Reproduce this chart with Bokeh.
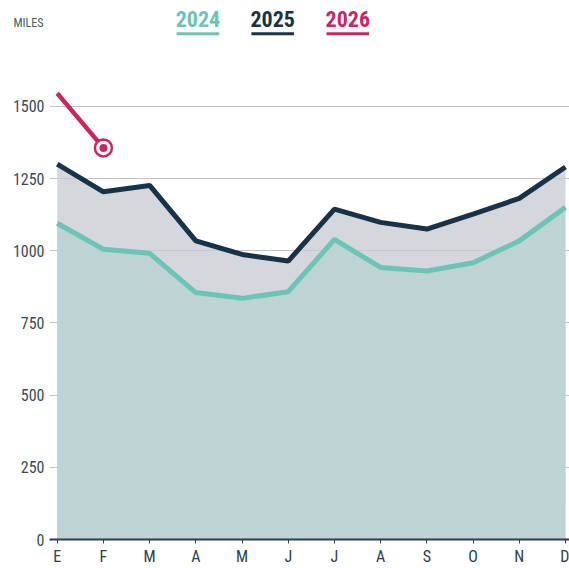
from bokeh.plotting import figure
from bokeh.models import FixedTicker, Range1d, LinearAxis
from bokeh.layouts import column
from bokeh.core.properties import value
from bokeh.embed import file_html
from bokeh.resources import INLINE

months = ["E", "F", "M", "A", "M", "J", "J", "A", "S", "O", "N", "D"]
miles_2024 = [1095, 1005, 991, 855, 835, 858, 1039, 942, 930, 958, 1034, 1150]
miles_2025 = [1300, 1204, 1226, 1034, 987, 964, 1144, 1098, 1075, 1127, 1181, 1290]
miles_2026 = [1545, 1356]
y_ticks = [0, 250, 500, 750, 1000, 1250, 1500]
series_names = ["2024", "2025", "2026"]
unit_label = "MILES"

C24 = "#6cc4b4"
C25 = "#183247"
C26 = "#c8285f"
FONT = "Liberation Sans Narrow, Roboto Condensed, Roboto"

W = 569
LEFT = 49
HEAD_H = 44
MAIN_H = 524
x = list(range(len(months)))

# ---------- header strip (pixel coordinates) ----------
h = figure(width=W, height=HEAD_H, output_backend="svg", toolbar_location=None,
           x_range=Range1d(LEFT, W), y_range=Range1d(HEAD_H, 0),
           min_border_left=LEFT, min_border_right=0, min_border_top=0,
           min_border_bottom=0, x_axis_type=None, y_axis_type=None)
h.outline_line_color = None
h.grid.visible = False

unit_axis = LinearAxis(ticker=FixedTicker(ticks=[]), axis_label=unit_label,
                       axis_label_orientation="horizontal", axis_label_standoff=6,
                       axis_label_text_font=FONT, axis_label_text_font_size="12px",
                       axis_label_text_font_style="normal",
                       axis_label_text_color="#4a5a66",
                       axis_line_color=None, major_tick_line_color=None,
                       minor_tick_line_color=None, major_label_text_font_size="0px")
h.add_layout(unit_axis, "left")

colors = [C24, C25, C26]
centers = [197.4, 272.2, 347.3]
h.text(x=centers, y=[18.8] * 3, text=series_names,
       text_align="center", text_baseline="middle", text_color=colors,
       text_font=value(FONT), text_font_size="22px", text_font_style="bold")
h.segment(x0=[c - 21.3 for c in centers], y0=[33.3] * 3,
          x1=[c + 21.3 for c in centers], y1=[33.3] * 3,
          line_color=colors, line_width=3)

# ---------- main chart ----------
p = figure(width=W, height=MAIN_H, output_backend="svg", toolbar_location=None,
           x_range=Range1d(-0.167, 11.087), y_range=Range1d(0, 1714),
           min_border_left=LEFT, min_border_right=0, min_border_top=0,
           min_border_bottom=28)
p.outline_line_color = None
p.background_fill_color = "white"

xs_area = [x[0]] + x + [x[-1]]
p.patch(xs_area, [0] + miles_2025 + [0], fill_color="#c9ced4", fill_alpha=0.8, line_color=None)
p.patch(xs_area, [0] + miles_2024 + [0], fill_color="#b8d2d2", fill_alpha=0.8, line_color=None)

p.line(x, miles_2024, line_color=C24, line_width=5)
p.line(x, miles_2025, line_color=C25, line_width=5)
x26 = x[:len(miles_2026)]
p.line(x26, miles_2026, line_color=C26, line_width=4.5)
p.scatter([x26[-1]], [miles_2026[-1]], size=17, marker="circle", fill_color="white",
          line_color=C26, line_width=2.5)
p.scatter([x26[-1]], [miles_2026[-1]], size=8, marker="circle", fill_color=C26,
          line_color=None)

p.xaxis.ticker = FixedTicker(ticks=x)
p.xaxis.major_label_overrides = {i: m for i, m in enumerate(months)}
p.xaxis.axis_line_color = "#2b3f4f"
p.xaxis.axis_line_width = 2
p.xaxis.major_tick_line_color = "#2b3f4f"
p.xaxis.major_tick_out = 4
p.xaxis.major_tick_in = 0
p.xaxis.minor_tick_line_color = None
p.xaxis.major_label_standoff = 3
p.xaxis.major_label_text_font = FONT
p.xaxis.major_label_text_font_size = "16px"
p.xaxis.major_label_text_color = "#2c3e4c"

p.yaxis.ticker = FixedTicker(ticks=y_ticks)
p.yaxis.axis_line_color = None
p.yaxis.major_tick_line_color = None
p.yaxis.major_tick_out = 0
p.yaxis.major_tick_in = 0
p.yaxis.minor_tick_line_color = None
p.yaxis.major_label_standoff = 5
p.yaxis.major_label_text_font = FONT
p.yaxis.major_label_text_font_size = "16px"
p.yaxis.major_label_text_color = "#3a4a55"

p.xgrid.grid_line_color = None
p.ygrid.ticker = FixedTicker(ticks=y_ticks)
p.ygrid.grid_line_color = "#c4c4c4"
p.ygrid.grid_line_width = 1.2

layout = column(h, p, spacing=0)
open("out.html", "w").write(file_html(layout, INLINE))
